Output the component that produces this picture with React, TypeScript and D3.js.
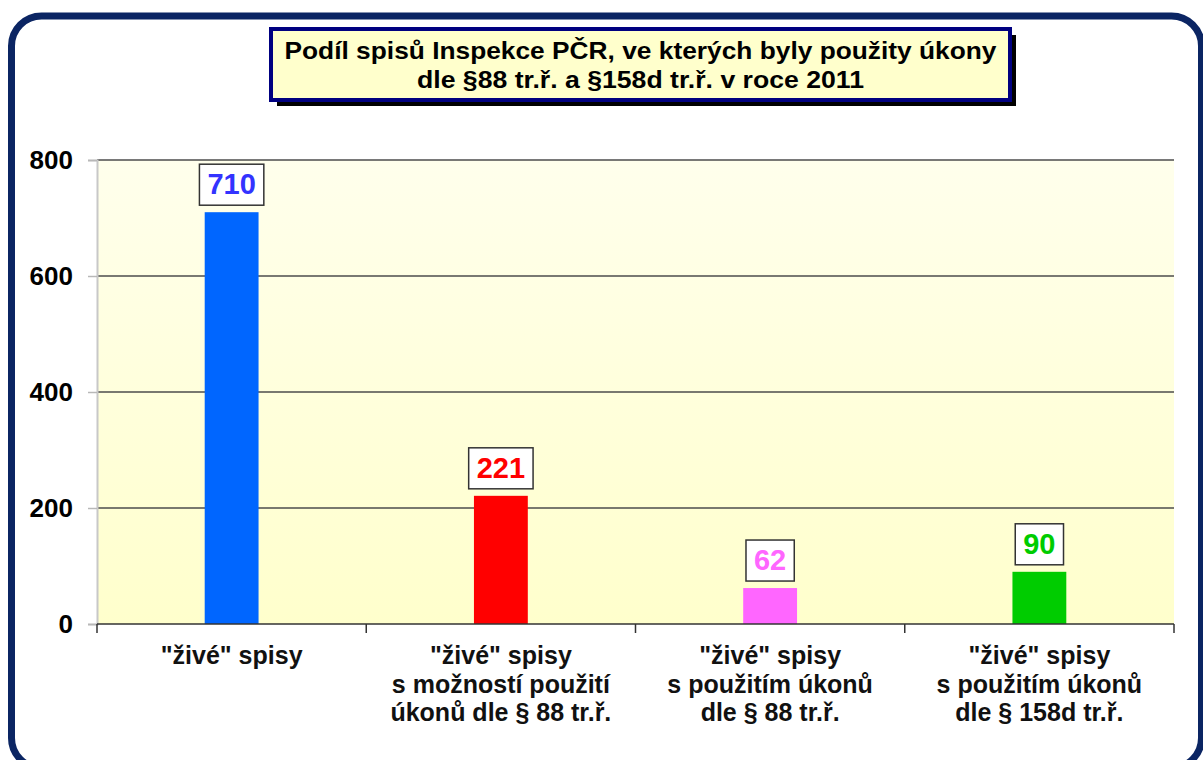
import * as d3 from "d3";
import React, { useEffect, useRef } from "react";

const categories = ["zive", "moznost88", "pouzito88", "pouzito158d"];
const categoryLines = [
    ['"živé" spisy'],
    ['"živé" spisy', "s možností použití", "úkonů dle § 88 tr.ř."],
    ['"živé" spisy', "s použitím úkonů", "dle § 88 tr.ř."],
    ['"živé" spisy', "s použitím úkonů", "dle § 158d tr.ř."],
];
const values = [710, 221, 62, 90];
const barColors = ["#0066ff", "#ff0000", "#ff66ff", "#00cc00"];
const labelColors = ["#3333ff", "#ff0000", "#ff66ff", "#00cc00"];
const yTicks = [0, 200, 400, 600, 800];
const titleLines = ["Podíl spisů Inspekce PČR, ve kterých byly použity úkony", "dle §88 tr.ř. a §158d tr.ř. v roce 2011"];

const W = 1203;
const H = 760;
const plot = { left: 97, right: 1174, top: 160, bottom: 624 };
const FONT = "Liberation Sans, Arial, sans-serif";

export default function App() {
    const svgRef = useRef<SVGSVGElement>(null);

    useEffect(() => {
        const svg = d3.select(svgRef.current);
        svg.selectAll("*").remove();

        const x = d3.scaleBand().domain(categories).range([plot.left, plot.right]).paddingInner(0.8).paddingOuter(0.4);
        const xOuter = d3.scaleBand().domain(categories).range([plot.left, plot.right]);
        const y = d3.scaleLinear().domain([0, 800]).range([plot.bottom, plot.top]);

        // background gradient
        const defs = svg.append("defs");
        const grad = defs.append("linearGradient").attr("id", "bg").attr("x1", 0).attr("y1", 0).attr("x2", 0).attr("y2", 1);
        grad.append("stop").attr("offset", "0%").attr("stop-color", "#ffffec");
        grad.append("stop").attr("offset", "100%").attr("stop-color", "#ffffcc");

        svg.append("rect").attr("width", W).attr("height", H).attr("fill", "#ffffff");

        // outer rounded frame
        svg.append("rect")
            .attr("x", 11.5).attr("y", 16).attr("width", 1190).attr("height", 752)
            .attr("rx", 30).attr("fill", "#ffffff").attr("stroke", "#0b2563").attr("stroke-width", 7);

        // plot background
        svg.append("rect")
            .attr("x", plot.left).attr("y", plot.top)
            .attr("width", plot.right - plot.left).attr("height", plot.bottom - plot.top)
            .attr("fill", "url(#bg)");

        // gridlines
        svg.append("g").selectAll("line").data(yTicks.filter((t) => t > 0)).join("line")
            .attr("x1", plot.left).attr("x2", plot.right)
            .attr("y1", (d) => y(d)).attr("y2", (d) => y(d))
            .attr("stroke", "#4d4d4d").attr("stroke-width", 1.3);

        // y axis
        const yAxis = d3.axisLeft(y).tickValues(yTicks).tickSize(9).tickPadding(15);
        const gy = svg.append("g").attr("transform", `translate(${plot.left},0)`).call(yAxis);
        gy.select(".domain").attr("stroke", "#c8c8c8").attr("stroke-width", 2);
        gy.selectAll(".tick line").attr("stroke", "#b8b8b8").attr("stroke-width", 1.5);
        gy.selectAll(".tick text")
            .attr("font-family", FONT).attr("font-size", 26).attr("font-weight", "bold").attr("fill", "#000");

        // bars
        svg.append("g").selectAll("rect").data(values).join("rect")
            .attr("x", (d, i) => x(categories[i])!)
            .attr("width", x.bandwidth())
            .attr("y", (d) => y(d))
            .attr("height", (d) => y(0) - y(d))
            .attr("fill", (d, i) => barColors[i]);

        // x axis
        const gx = svg.append("g").attr("transform", `translate(0,${plot.bottom})`);
        gx.append("line").attr("x1", plot.left).attr("x2", plot.right).attr("stroke", "#333").attr("stroke-width", 1.5);
        const bounds = categories.map((c) => xOuter(c)!).concat([plot.right]);
        gx.selectAll("line.tk").data(bounds).join("line").attr("class", "tk")
            .attr("x1", (d) => d).attr("x2", (d) => d).attr("y1", 0).attr("y2", 9)
            .attr("stroke", "#333").attr("stroke-width", 1.5);

        // category labels
        categoryLines.forEach((lines, i) => {
            const cx = xOuter(categories[i])! + xOuter.bandwidth() / 2;
            const t = svg.append("text").attr("text-anchor", "middle")
                .attr("font-family", FONT).attr("font-size", 25).attr("font-weight", "bold").attr("fill", "#111");
            lines.forEach((line, j) => {
                t.append("tspan").attr("x", cx).attr("y", 664 + j * 28.5).text(line);
            });
        });

        // value labels in boxes
        values.forEach((v, i) => {
            const cx = x(categories[i])! + x.bandwidth() / 2;
            const g = svg.append("g");
            const box = g.append("rect");
            const txt = g.append("text").attr("x", cx).attr("y", y(v) - 18)
                .attr("text-anchor", "middle")
                .attr("font-family", FONT).attr("font-size", 29).attr("font-weight", "bold")
                .attr("fill", labelColors[i]).text(v);
            const w = (txt.node() as SVGTextElement).getComputedTextLength() + 16;
            box.attr("x", cx - w / 2).attr("y", y(v) - 48).attr("width", w).attr("height", 41)
                .attr("fill", "#ffffff").attr("stroke", "#333").attr("stroke-width", 1.5);
        });

        // title box
        const tb = { x: 271, y: 29, w: 739, h: 71 };
        svg.append("rect").attr("x", tb.x + 6).attr("y", tb.y + 6).attr("width", tb.w).attr("height", tb.h).attr("fill", "#000");
        svg.append("rect").attr("x", tb.x).attr("y", tb.y).attr("width", tb.w).attr("height", tb.h)
            .attr("fill", "#ffffcc").attr("stroke", "#000080").attr("stroke-width", 4);
        const lengths = [712, 447];
        titleLines.forEach((line, j) => {
            svg.append("text").attr("x", tb.x + tb.w / 2).attr("y", 59 + j * 29)
                .attr("text-anchor", "middle")
                .attr("font-family", FONT).attr("font-size", 24).attr("font-weight", "bold").attr("fill", "#000")
                .attr("textLength", lengths[j]).attr("lengthAdjust", "spacingAndGlyphs")
                .text(line);
        });
    }, []);

    return (
        <svg ref={svgRef} width={W} height={H} style={{ position: "absolute", left: 0, top: 0 }} />
    );
}
